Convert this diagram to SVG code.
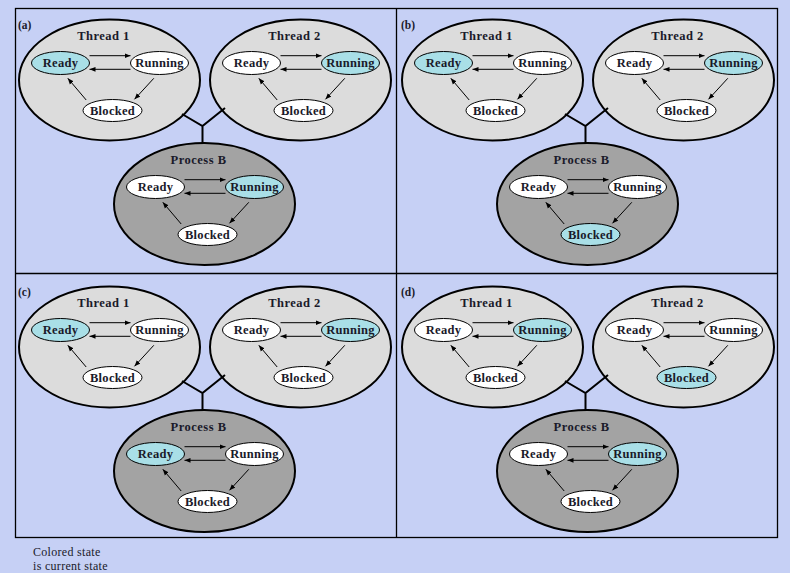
<svg xmlns="http://www.w3.org/2000/svg" width="790" height="573" viewBox="0 0 790 573">
<style>
.bg{fill:#C6D0F5}
.frame{fill:none;stroke:#000;stroke-width:1.3}
.thread{fill:#DCDCDC;stroke:#000;stroke-width:2}
.proc{fill:#A3A3A3;stroke:#000;stroke-width:2}
.st{fill:#FFFFFF;stroke:#000;stroke-width:1}
.cur{fill:#A9DFE7;stroke:#000;stroke-width:1}
.title{font-family:"Liberation Serif","Times New Roman",serif;font-size:12.5px;font-weight:bold;fill:#1a1a2a;text-anchor:middle;letter-spacing:0.5px}
.lbl{font-family:"Liberation Serif","Times New Roman",serif;font-size:12.5px;font-weight:bold;fill:#1a1a2a;text-anchor:middle;letter-spacing:0.3px}
.pl{font-family:"Liberation Serif","Times New Roman",serif;font-size:11.5px;font-weight:bold;fill:#1a1a2a}
.leg{font-family:"Liberation Serif","Times New Roman",serif;font-size:12px;fill:#1a1a2a;letter-spacing:0.3px}
.arr{fill:none;stroke:#000;stroke-width:1;marker-end:url(#ah)}
.tree{fill:none;stroke:#000;stroke-width:2}
</style>
<defs>
<marker id="ah" markerUnits="userSpaceOnUse" markerWidth="7" markerHeight="6" refX="6" refY="3" orient="auto">
<path d="M0,0.6 L6,3 L0,5.4 z" fill="#000"/>
</marker>
</defs>
<rect class="bg" x="0" y="0" width="790" height="573"/>
<g id="frame">
<rect class="frame" x="15.5" y="8.5" width="762" height="529"/>
<line class="frame" x1="396.5" y1="8.5" x2="396.5" y2="537.5"/>
<line class="frame" x1="15.5" y1="273.5" x2="777.5" y2="273.5"/>
<text class="pl" x="18" y="29">(a)</text>
<text class="pl" x="401" y="29">(b)</text>
<text class="pl" x="18" y="296">(c)</text>
<text class="pl" x="401" y="296">(d)</text>
</g>

<!-- Panel A -->
<g id="a-thread1" transform="translate(109.5,80)">
<ellipse class="thread" cx="0" cy="0" rx="90.5" ry="60.5"/>
<text class="title" x="-6" y="-40">Thread 1</text>
<g id="a-t1-ready"><ellipse class="cur" cx="-49" cy="-17" rx="29" ry="11.5"/><text class="lbl" x="-49" y="-13">Ready</text></g>
<g id="a-t1-running"><ellipse class="st" cx="50" cy="-17" rx="29" ry="11.5"/><text class="lbl" x="50" y="-13">Running</text></g>
<g id="a-t1-blocked"><ellipse class="st" cx="3" cy="30.5" rx="29.5" ry="11"/><text class="lbl" x="3" y="34.5">Blocked</text></g>
</g>
<g id="a-thread2" transform="translate(300.5,80)">
<ellipse class="thread" cx="0" cy="0" rx="90.5" ry="60.5"/>
<text class="title" x="-6" y="-40">Thread 2</text>
<g id="a-t2-ready"><ellipse class="st" cx="-49" cy="-17" rx="29" ry="11.5"/><text class="lbl" x="-49" y="-13">Ready</text></g>
<g id="a-t2-running"><ellipse class="cur" cx="50" cy="-17" rx="29" ry="11.5"/><text class="lbl" x="50" y="-13">Running</text></g>
<g id="a-t2-blocked"><ellipse class="st" cx="3" cy="30.5" rx="29.5" ry="11"/><text class="lbl" x="3" y="34.5">Blocked</text></g>
</g>
<g id="a-process" transform="translate(204.5,204)">
<ellipse class="proc" cx="0" cy="0" rx="90.5" ry="61"/>
<text class="title" x="-6" y="-40">Process B</text>
<g id="a-p-ready"><ellipse class="st" cx="-49" cy="-17" rx="29" ry="11.5"/><text class="lbl" x="-49" y="-13">Ready</text></g>
<g id="a-p-running"><ellipse class="cur" cx="50" cy="-17" rx="29" ry="11.5"/><text class="lbl" x="50" y="-13">Running</text></g>
<g id="a-p-blocked"><ellipse class="st" cx="3" cy="30.5" rx="29.5" ry="11"/><text class="lbl" x="3" y="34.5">Blocked</text></g>
</g>

<!-- Panel B -->
<g id="b-thread1" transform="translate(492.5,80)">
<ellipse class="thread" cx="0" cy="0" rx="90.5" ry="60.5"/>
<text class="title" x="-6" y="-40">Thread 1</text>
<g id="b-t1-ready"><ellipse class="cur" cx="-49" cy="-17" rx="29" ry="11.5"/><text class="lbl" x="-49" y="-13">Ready</text></g>
<g id="b-t1-running"><ellipse class="st" cx="50" cy="-17" rx="29" ry="11.5"/><text class="lbl" x="50" y="-13">Running</text></g>
<g id="b-t1-blocked"><ellipse class="st" cx="3" cy="30.5" rx="29.5" ry="11"/><text class="lbl" x="3" y="34.5">Blocked</text></g>
</g>
<g id="b-thread2" transform="translate(683.5,80)">
<ellipse class="thread" cx="0" cy="0" rx="90.5" ry="60.5"/>
<text class="title" x="-6" y="-40">Thread 2</text>
<g id="b-t2-ready"><ellipse class="st" cx="-49" cy="-17" rx="29" ry="11.5"/><text class="lbl" x="-49" y="-13">Ready</text></g>
<g id="b-t2-running"><ellipse class="cur" cx="50" cy="-17" rx="29" ry="11.5"/><text class="lbl" x="50" y="-13">Running</text></g>
<g id="b-t2-blocked"><ellipse class="st" cx="3" cy="30.5" rx="29.5" ry="11"/><text class="lbl" x="3" y="34.5">Blocked</text></g>
</g>
<g id="b-process" transform="translate(587.5,204)">
<ellipse class="proc" cx="0" cy="0" rx="90.5" ry="61"/>
<text class="title" x="-6" y="-40">Process B</text>
<g id="b-p-ready"><ellipse class="st" cx="-49" cy="-17" rx="29" ry="11.5"/><text class="lbl" x="-49" y="-13">Ready</text></g>
<g id="b-p-running"><ellipse class="st" cx="50" cy="-17" rx="29" ry="11.5"/><text class="lbl" x="50" y="-13">Running</text></g>
<g id="b-p-blocked"><ellipse class="cur" cx="3" cy="30.5" rx="29.5" ry="11"/><text class="lbl" x="3" y="34.5">Blocked</text></g>
</g>

<!-- Panel C -->
<g id="c-thread1" transform="translate(109.5,347)">
<ellipse class="thread" cx="0" cy="0" rx="90.5" ry="60.5"/>
<text class="title" x="-6" y="-40">Thread 1</text>
<g id="c-t1-ready"><ellipse class="cur" cx="-49" cy="-17" rx="29" ry="11.5"/><text class="lbl" x="-49" y="-13">Ready</text></g>
<g id="c-t1-running"><ellipse class="st" cx="50" cy="-17" rx="29" ry="11.5"/><text class="lbl" x="50" y="-13">Running</text></g>
<g id="c-t1-blocked"><ellipse class="st" cx="3" cy="30.5" rx="29.5" ry="11"/><text class="lbl" x="3" y="34.5">Blocked</text></g>
</g>
<g id="c-thread2" transform="translate(300.5,347)">
<ellipse class="thread" cx="0" cy="0" rx="90.5" ry="60.5"/>
<text class="title" x="-6" y="-40">Thread 2</text>
<g id="c-t2-ready"><ellipse class="st" cx="-49" cy="-17" rx="29" ry="11.5"/><text class="lbl" x="-49" y="-13">Ready</text></g>
<g id="c-t2-running"><ellipse class="cur" cx="50" cy="-17" rx="29" ry="11.5"/><text class="lbl" x="50" y="-13">Running</text></g>
<g id="c-t2-blocked"><ellipse class="st" cx="3" cy="30.5" rx="29.5" ry="11"/><text class="lbl" x="3" y="34.5">Blocked</text></g>
</g>
<g id="c-process" transform="translate(204.5,471)">
<ellipse class="proc" cx="0" cy="0" rx="90.5" ry="61"/>
<text class="title" x="-6" y="-40">Process B</text>
<g id="c-p-ready"><ellipse class="cur" cx="-49" cy="-17" rx="29" ry="11.5"/><text class="lbl" x="-49" y="-13">Ready</text></g>
<g id="c-p-running"><ellipse class="st" cx="50" cy="-17" rx="29" ry="11.5"/><text class="lbl" x="50" y="-13">Running</text></g>
<g id="c-p-blocked"><ellipse class="st" cx="3" cy="30.5" rx="29.5" ry="11"/><text class="lbl" x="3" y="34.5">Blocked</text></g>
</g>

<!-- Panel D -->
<g id="d-thread1" transform="translate(492.5,347)">
<ellipse class="thread" cx="0" cy="0" rx="90.5" ry="60.5"/>
<text class="title" x="-6" y="-40">Thread 1</text>
<g id="d-t1-ready"><ellipse class="st" cx="-49" cy="-17" rx="29" ry="11.5"/><text class="lbl" x="-49" y="-13">Ready</text></g>
<g id="d-t1-running"><ellipse class="cur" cx="50" cy="-17" rx="29" ry="11.5"/><text class="lbl" x="50" y="-13">Running</text></g>
<g id="d-t1-blocked"><ellipse class="st" cx="3" cy="30.5" rx="29.5" ry="11"/><text class="lbl" x="3" y="34.5">Blocked</text></g>
</g>
<g id="d-thread2" transform="translate(683.5,347)">
<ellipse class="thread" cx="0" cy="0" rx="90.5" ry="60.5"/>
<text class="title" x="-6" y="-40">Thread 2</text>
<g id="d-t2-ready"><ellipse class="st" cx="-49" cy="-17" rx="29" ry="11.5"/><text class="lbl" x="-49" y="-13">Ready</text></g>
<g id="d-t2-running"><ellipse class="st" cx="50" cy="-17" rx="29" ry="11.5"/><text class="lbl" x="50" y="-13">Running</text></g>
<g id="d-t2-blocked"><ellipse class="cur" cx="3" cy="30.5" rx="29.5" ry="11"/><text class="lbl" x="3" y="34.5">Blocked</text></g>
</g>
<g id="d-process" transform="translate(587.5,471)">
<ellipse class="proc" cx="0" cy="0" rx="90.5" ry="61"/>
<text class="title" x="-6" y="-40">Process B</text>
<g id="d-p-ready"><ellipse class="st" cx="-49" cy="-17" rx="29" ry="11.5"/><text class="lbl" x="-49" y="-13">Ready</text></g>
<g id="d-p-running"><ellipse class="cur" cx="50" cy="-17" rx="29" ry="11.5"/><text class="lbl" x="50" y="-13">Running</text></g>
<g id="d-p-blocked"><ellipse class="st" cx="3" cy="30.5" rx="29.5" ry="11"/><text class="lbl" x="3" y="34.5">Blocked</text></g>
</g>

<g id="connectors">
<g transform="translate(109.5,80)"><path class="arr" d="M-20,-24.3 H21"/><path class="arr" d="M21,-10.7 H-20"/><path class="arr" d="M44.3,-1.7 L25,19.3"/><path class="arr" d="M-23.3,20 L-41.7,-1.7"/></g>
<g transform="translate(300.5,80)"><path class="arr" d="M-20,-24.3 H21"/><path class="arr" d="M21,-10.7 H-20"/><path class="arr" d="M44.3,-1.7 L25,19.3"/><path class="arr" d="M-23.3,20 L-41.7,-1.7"/></g>
<g transform="translate(204.5,204)"><path class="arr" d="M-20,-24.3 H21"/><path class="arr" d="M21,-10.7 H-20"/><path class="arr" d="M44.3,-1.7 L25,19.3"/><path class="arr" d="M-23.3,20 L-41.7,-1.7"/></g>
<g transform="translate(492.5,80)"><path class="arr" d="M-20,-24.3 H21"/><path class="arr" d="M21,-10.7 H-20"/><path class="arr" d="M44.3,-1.7 L25,19.3"/><path class="arr" d="M-23.3,20 L-41.7,-1.7"/></g>
<g transform="translate(683.5,80)"><path class="arr" d="M-20,-24.3 H21"/><path class="arr" d="M21,-10.7 H-20"/><path class="arr" d="M44.3,-1.7 L25,19.3"/><path class="arr" d="M-23.3,20 L-41.7,-1.7"/></g>
<g transform="translate(587.5,204)"><path class="arr" d="M-20,-24.3 H21"/><path class="arr" d="M21,-10.7 H-20"/><path class="arr" d="M44.3,-1.7 L25,19.3"/><path class="arr" d="M-23.3,20 L-41.7,-1.7"/></g>
<g transform="translate(109.5,347)"><path class="arr" d="M-20,-24.3 H21"/><path class="arr" d="M21,-10.7 H-20"/><path class="arr" d="M44.3,-1.7 L25,19.3"/><path class="arr" d="M-23.3,20 L-41.7,-1.7"/></g>
<g transform="translate(300.5,347)"><path class="arr" d="M-20,-24.3 H21"/><path class="arr" d="M21,-10.7 H-20"/><path class="arr" d="M44.3,-1.7 L25,19.3"/><path class="arr" d="M-23.3,20 L-41.7,-1.7"/></g>
<g transform="translate(204.5,471)"><path class="arr" d="M-20,-24.3 H21"/><path class="arr" d="M21,-10.7 H-20"/><path class="arr" d="M44.3,-1.7 L25,19.3"/><path class="arr" d="M-23.3,20 L-41.7,-1.7"/></g>
<g transform="translate(492.5,347)"><path class="arr" d="M-20,-24.3 H21"/><path class="arr" d="M21,-10.7 H-20"/><path class="arr" d="M44.3,-1.7 L25,19.3"/><path class="arr" d="M-23.3,20 L-41.7,-1.7"/></g>
<g transform="translate(683.5,347)"><path class="arr" d="M-20,-24.3 H21"/><path class="arr" d="M21,-10.7 H-20"/><path class="arr" d="M44.3,-1.7 L25,19.3"/><path class="arr" d="M-23.3,20 L-41.7,-1.7"/></g>
<g transform="translate(587.5,471)"><path class="arr" d="M-20,-24.3 H21"/><path class="arr" d="M21,-10.7 H-20"/><path class="arr" d="M44.3,-1.7 L25,19.3"/><path class="arr" d="M-23.3,20 L-41.7,-1.7"/></g>
<path class="tree" d="M182,114 L202.5,126 L225,108 M202.5,126 V143.5"/>
<path class="tree" d="M565,114 L585.5,126 L608,108 M585.5,126 V143.5"/>
<path class="tree" d="M182,381 L202.5,393 L225,375 M202.5,393 V410.5"/>
<path class="tree" d="M565,381 L585.5,393 L608,375 M585.5,393 V410.5"/>
</g>

<g id="legend">
<text class="leg" x="33" y="556">Colored state</text>
<text class="leg" x="33" y="570">is current state</text>
</g>
</svg>
